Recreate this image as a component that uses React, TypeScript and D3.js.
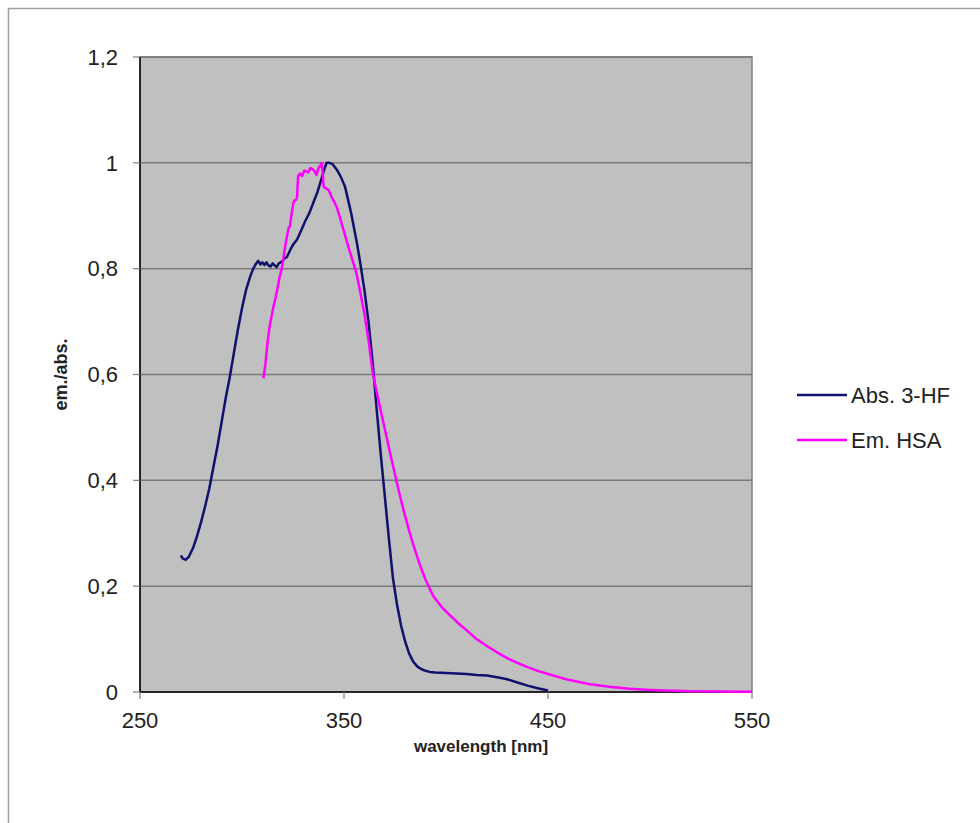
import React from "react";
import * as d3 from "d3";

const absWl = [270,271,272.5,274,276,278,280,282,284,286,288,290,292,294,296,298,300,302,304,305.5,307,308,309,310,311,312,313,314,315,316,317,318,319,320,321,322,323,324,325,327,329,331,333,335,337,339,340.5,341.5,343,344.5,346.5,348.5,350.5,352,353.5,355,356.5,358,360,362,364,366,368,370,372,374,376,378,380,382,384,386,388,390,392,395,400,405,410,415,420,425,430,435,440,445,450];
const absVal = [0.258,0.252,0.25,0.256,0.272,0.295,0.322,0.352,0.385,0.425,0.465,0.51,0.555,0.595,0.64,0.685,0.725,0.76,0.785,0.8,0.81,0.815,0.808,0.812,0.807,0.812,0.806,0.804,0.81,0.806,0.803,0.81,0.812,0.815,0.82,0.822,0.83,0.838,0.845,0.855,0.872,0.89,0.905,0.925,0.945,0.97,0.99,1.0,1.0,0.997,0.987,0.973,0.955,0.93,0.905,0.875,0.845,0.81,0.76,0.7,0.625,0.535,0.45,0.37,0.29,0.215,0.165,0.125,0.095,0.072,0.057,0.048,0.043,0.04,0.038,0.037,0.036,0.035,0.034,0.032,0.031,0.028,0.024,0.018,0.012,0.007,0.003];

const emWl = [310.5,311.5,312.5,313.5,314.5,315.5,316.5,317.5,318.5,319.5,320.5,321.5,322.5,323,323.5,324,325,325.5,326.5,327,327.5,328.5,329.5,330.5,331.5,332.5,333.5,334.5,335.5,336.5,337.5,338.5,339,339.5,340,341,342.4,344,346.4,348,350,352,354,356,358,360,362,364,366,368,370,372,374,376,378,380,382,384,386,388,390,392,394,398,402,406,410,415,420,425,430,435,440,445,450,460,470,480,490,500,520,550];
const emVal = [0.593,0.62,0.66,0.69,0.71,0.73,0.745,0.765,0.785,0.8,0.825,0.85,0.87,0.878,0.88,0.895,0.92,0.928,0.93,0.935,0.975,0.98,0.975,0.985,0.984,0.982,0.99,0.988,0.985,0.977,0.99,0.995,1.0,0.985,0.955,0.952,0.949,0.935,0.917,0.897,0.87,0.843,0.818,0.793,0.755,0.715,0.665,0.605,0.568,0.532,0.497,0.462,0.428,0.394,0.362,0.332,0.304,0.278,0.254,0.232,0.212,0.195,0.18,0.16,0.145,0.13,0.117,0.1,0.087,0.075,0.064,0.055,0.047,0.04,0.034,0.023,0.015,0.01,0.006,0.004,0.0015,0.0003];

const xTicks = [250, 350, 450, 550];
const yTicks = [0, 0.2, 0.4, 0.6, 0.8, 1, 1.2];
const seriesNames = ["Abs. 3-HF", "Em. HSA"];
const seriesColors = ["#10106e", "#ff00ff"];

const W = 980, H = 823;
const plot = { left: 140, right: 752, top: 57, bottom: 692 };
const FONT = "'Liberation Sans', Arial, sans-serif";

export default function App() {
  const x = d3.scaleLinear().domain([250, 550]).range([plot.left, plot.right]);
  const y = d3.scaleLinear().domain([0, 1.2]).range([plot.bottom, plot.top]);
  const line = d3.line<[number, number]>().x(d => x(d[0])).y(d => y(d[1]));
  const absPts = absWl.map((w, i) => [w, absVal[i]] as [number, number]);
  const emPts = emWl.map((w, i) => [w, emVal[i]] as [number, number]);
  const fmt = (v: number) => String(+v.toFixed(1)).replace(".", ",");

  return (
    <svg width={W} height={H} style={{ position: "absolute", left: 0, top: 0, background: "#fff" }}>
      <rect x={8.5} y={8.5} width={W + 10} height={H + 10} fill="#fff" stroke="#a0a0a0" strokeWidth={1.5} />
      <rect x={plot.left} y={plot.top} width={plot.right - plot.left} height={plot.bottom - plot.top} fill="#c0c0c0" stroke="#808080" strokeWidth={1.5} />
      {yTicks.filter(t => t > 0).map(t => (
        <line key={t} x1={plot.left} x2={plot.right} y1={y(t)} y2={y(t)} stroke="#7a7a7a" strokeWidth={1.5} />
      ))}
      <line x1={plot.left} x2={plot.left} y1={plot.top} y2={plot.bottom} stroke="#000" strokeWidth={1.5} />
      <line x1={plot.left} x2={plot.right} y1={plot.bottom} y2={plot.bottom} stroke="#000" strokeWidth={1.5} />
      {yTicks.map(t => (
        <g key={t}>
          <line x1={plot.left - 7} x2={plot.left} y1={y(t)} y2={y(t)} stroke="#808080" strokeWidth={1.2} />
          <text x={plot.left - 22} y={y(t)} dy="0.35em" textAnchor="end" fontFamily={FONT} fontSize={22} fill="#222">{fmt(t)}</text>
        </g>
      ))}
      {xTicks.map(t => (
        <g key={t}>
          <line x1={x(t)} x2={x(t)} y1={plot.bottom} y2={plot.bottom + 7} stroke="#808080" strokeWidth={1.2} />
          <text x={x(t)} y={plot.bottom + 36} textAnchor="middle" fontFamily={FONT} fontSize={22} fill="#222">{t}</text>
        </g>
      ))}
      <path d={line(absPts) || ""} fill="none" stroke={seriesColors[0]} strokeWidth={2.5} strokeLinejoin="round" />
      <path d={line(emPts) || ""} fill="none" stroke={seriesColors[1]} strokeWidth={2.5} strokeLinejoin="round" />
      <text x={481} y={752} textAnchor="middle" fontFamily={FONT} fontWeight="bold" fontSize={17} fill="#222">wavelength [nm]</text>
      <text transform={`translate(67,${(plot.top + plot.bottom) / 2}) rotate(-90)`} textAnchor="middle" fontFamily={FONT} fontWeight="bold" fontSize={18} fill="#222">em./abs.</text>
      {seriesNames.map((n, i) => (
        <g key={n}>
          <line x1={797} x2={847} y1={395 + i * 45} y2={395 + i * 45} stroke={seriesColors[i]} strokeWidth={2.5} />
          <text x={851} y={395 + i * 45} dy="0.35em" fontFamily={FONT} fontSize={22} fill="#222">{n}</text>
        </g>
      ))}
    </svg>
  );
}
